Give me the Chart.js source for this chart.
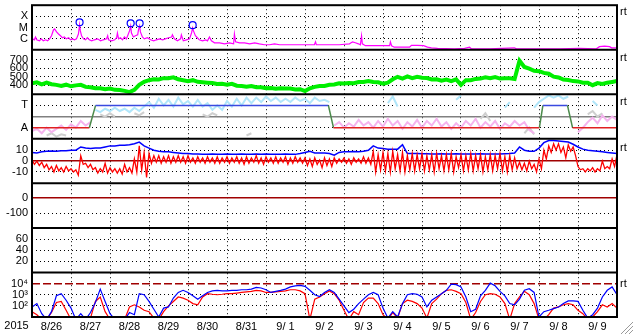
<!DOCTYPE html>
<html>
<head>
<meta charset="utf-8">
<script src="https://cdn.jsdelivr.net/npm/chart.js@4.4.1/dist/chart.umd.min.js"></script>
<style>
  html, body { margin: 0; padding: 0; background: #fff; }
  #wrap { width: 633px; height: 334px; }
</style>
</head>
<body>
<div id="wrap"><canvas id="spaceWeather" width="633" height="334"></canvas></div>
<script>
const _ = null;

const dayLabels = ["8/26", "8/27", "8/28", "8/29", "8/30", "8/31", "9/ 1", "9/ 2", "9/ 3", "9/ 4", "9/ 5", "9/ 6", "9/ 7", "9/ 8", "9/ 9"];
const yearLabel = "2015";

// X-ray flux, irregular samples (day 0 = 8/26 00:00)
const xrayDay = [
  0.01, 0.06, 0.09, 0.12, 0.19, 0.24, 0.29, 0.35, 0.40, 0.45,
  0.50, 0.55, 0.58, 0.63, 0.68, 0.73, 0.78, 0.83, 0.88, 0.94,
  0.99, 1.04, 1.09, 1.14, 1.19, 1.22, 1.24, 1.27, 1.32, 1.37,
  1.42, 1.47, 1.53, 1.60, 1.68, 1.76, 1.83, 1.91, 1.94, 1.96,
  2.04, 2.12, 2.17, 2.19, 2.22, 2.27, 2.32, 2.37, 2.42, 2.47,
  2.50, 2.53, 2.55, 2.60, 2.65, 2.71, 2.73, 2.76, 2.78, 2.83,
  2.88, 2.96, 3.04, 3.12, 3.19, 3.27, 3.35, 3.42, 3.50, 3.58,
  3.60, 3.65, 3.73, 3.81, 3.83, 3.88, 3.96, 4.04, 4.09, 4.12,
  4.14, 4.19, 4.24, 4.29, 4.37, 4.45, 4.50, 4.55, 4.60, 4.68,
  4.81, 4.94, 5.06, 5.17, 5.19, 5.22, 5.32, 5.45, 5.58, 5.71,
  5.83, 5.96, 6.09, 6.22, 6.35, 6.60, 6.86, 7.12, 7.24, 7.27,
  7.29, 7.58, 7.88, 8.14, 8.22, 8.29, 8.37, 8.42, 8.45, 8.47,
  8.55, 8.86, 9.17, 9.19, 9.22, 9.29, 9.55, 9.68, 9.73, 9.88,
  10.04, 10.14, 10.24, 10.40, 10.83, 11.09, 11.22, 11.27, 11.73, 12.37,
  12.42, 13.01, 13.53, 14.04, 14.47, 14.55, 14.68, 14.81, 14.86, 14.99
];
const xrayFlux = [
  9.5e-7, 7.8e-7, 1.4e-6, 7.8e-7, 6.3e-7, 9.5e-7, 6.3e-7, 7.8e-7, 6.3e-7, 9.5e-7,
  1.8e-6, 6.0e-6, 7.4e-6, 4.0e-6, 2.6e-6, 1.8e-6, 1.2e-6, 1.4e-6, 9.5e-7, 1.2e-6,
  7.8e-7, 9.5e-7, 7.8e-7, 9.5e-7, 2.6e-6, 1.7e-5, 4.9e-6, 1.8e-6, 9.5e-7, 7.8e-7,
  1.2e-6, 7.8e-7, 6.3e-7, 7.8e-7, 9.5e-7, 6.3e-7, 7.8e-7, 9.5e-7, 1.8e-6, 7.8e-7,
  6.3e-7, 7.8e-7, 1.2e-6, 3.2e-6, 9.5e-7, 1.2e-6, 7.8e-7, 1.4e-6, 9.5e-7, 2.6e-6,
  4.9e-6, 1.35e-5, 3.2e-6, 1.4e-6, 1.8e-6, 2.2e-6, 6.0e-6, 1.35e-5, 4.0e-6, 1.4e-6,
  9.5e-7, 1.2e-6, 7.8e-7, 6.3e-7, 7.8e-7, 9.5e-7, 7.8e-7, 9.5e-7, 1.2e-6, 1.4e-6,
  2.2e-6, 9.5e-7, 6.3e-7, 9.5e-7, 2.2e-6, 6.3e-7, 7.8e-7, 9.5e-7, 3.2e-6, 9.0e-6,
  4.9e-6, 1.8e-6, 1.2e-6, 7.8e-7, 6.3e-7, 7.8e-7, 6.3e-7, 1.4e-6, 6.3e-7, 4.2e-7,
  4.2e-7, 3.4e-7, 4.2e-7, 3.4e-7, 2.6e-6, 5.1e-7, 4.2e-7, 4.2e-7, 3.4e-7, 4.2e-7,
  3.4e-7, 2.8e-7, 2.8e-7, 3.4e-7, 2.8e-7, 2.8e-7, 2.8e-7, 2.8e-7, 2.8e-7, 5.1e-7,
  2.8e-7, 2.8e-7, 2.8e-7, 3.4e-7, 5.1e-7, 4.2e-7, 3.4e-7, 2.8e-7, 1.8e-6, 3.4e-7,
  2.3e-7, 2.3e-7, 2.3e-7, 5.1e-7, 2.3e-7, 1.7e-7, 1.7e-7, 1.7e-7, 2.5e-7, 2.5e-7,
  2.3e-7, 1.7e-7, 1.5e-7, 1.35e-7, 1.2e-7, 1.35e-7, 1.7e-7, 1.2e-7, 1.2e-7, 1.5e-7,
  1.2e-7, 1.2e-7, 1.2e-7, 1.35e-7, 1.2e-7, 1.9e-7, 2.1e-7, 1.9e-7, 1.5e-7, 1.5e-7
];
const flareDay = [1.22, 2.53, 2.76, 4.12];
const flareMark = [2.9e-5, 2.35e-5, 2.35e-5, 1.6e-5];

// 3-hourly samples from 8/26 00:00 to 9/10 00:00
const windSpeed = [
  420, 432, 408, 428, 410, 402, 388, 404, 385, 396,
  402, 378, 374, 362, 362, 350, 358, 343, 342, 331,
  316, 342, 402, 438, 458, 468, 466, 482, 480, 492,
  468, 458, 447, 458, 438, 433, 428, 423, 412, 414,
  404, 415, 392, 388, 379, 387, 375, 374, 362, 365,
  357, 361, 358, 359, 347, 351, 328, 362, 378, 388,
  388, 403, 407, 421, 419, 424, 422, 435, 437, 448,
  437, 433, 417, 428, 468, 498, 477, 503, 482, 498,
  487, 483, 467, 468, 452, 465, 447, 468, 402, 458,
  457, 473, 477, 493, 482, 495, 477, 481, 482, 473,
  690, 615, 595, 570, 565, 545, 535, 500, 490, 465,
  460, 447, 443, 427, 428, 398, 423, 412, 428, 437,
  447
];

const modeDay = [0, 1.47, 1.63, 7.60, 7.73, 13.01, 13.10, 13.73, 13.86, 15];
const modeLevel = [1, 1, 3, 3, 1, 1, 3, 3, 1, 1];

const plasmaBlue = [
  _, _, _, _, _, _, _, _, _, _,
  _, _, _, 2.6, 2.4, 2.7, 2.5, 2.8, 2.5, 2.7,
  2.4, 2.8, 2.5, 2.9, 3.3, 2.8, 3.6, 3.0, 3.5, 2.9,
  3.7, 3.1, 3.4, 2.9, 3.5, 2.9, 3.2, 2.6, 3.0, 2.6,
  3.4, 2.9, 3.6, 3.0, 3.7, 3.2, 3.7, 3.3, 3.8, 3.4,
  3.7, 3.3, 3.6, 3.3, 3.7, 3.4, 3.6, 3.2, 3.7, 3.4,
  3.5, 3.3, _, _, _, _, _, _, _, _,
  _, _, _, 3.2, 3.8, 2.9, _, _, _, _,
  _, _, _, _, _, _, _, 3.5, 3.9, _,
  _, _, _, _, _, _, _, 2.8, 3.3, _,
  _, _, _, 2.8, 3.3, 3.6, 3.9, 3.7, 3.9, 3.6,
  3.8, _, _, _, _, 3.4, 3.0, _, _, _,
  _
];
const plasmaPink = [
  0.7, 0.9, 0.5, 1.0, 0.6, 0.9, 1.2, 0.8, 1.3, 1.0,
  1.6, 1.2, 1.5, _, _, _, _, _, _, _,
  _, _, _, _, _, _, _, _, _, _,
  _, _, _, _, _, _, _, _, _, _,
  _, _, _, _, _, _, _, _, _, _,
  _, _, _, _, _, _, _, _, _, _,
  _, _, 1.2, 1.5, 1.0, 1.4, 1.1, 1.7, 1.2, 1.5,
  1.0, 1.6, 1.1, 1.8, 1.2, 1.6, 0.9, 1.5, 1.1, 1.7,
  1.0, 1.6, 1.2, 1.8, 1.1, 1.5, 0.9, 1.4, 1.0, 1.6,
  1.2, 1.8, 1.0, 1.5, 1.1, 1.6, 0.9, 1.4, 1.1, 1.6,
  1.2, 1.5, 0.8, 0.5, _, _, _, _, _, _,
  _, _, 0.6, 1.0, 1.5, 1.9, 1.4, 2.1, 1.6, 2.0,
  1.7
];
const plasmaGray = [
  _, _, _, 0.3, 0.5, 0.2, 0.4, 0.3, _, _,
  _, _, _, _, 2.2, 2.0, 2.3, 2.0, _, _,
  _, 2.3, 2.1, 2.4, _, _, _, _, _, _,
  _, _, _, _, _, 2.2, 2.0, 2.3, 2.1, _,
  _, _, _, _, 0.3, 0.5, _, _, _, _,
  _, _, _, _, _, _, _, _, _, _,
  _, _, _, _, _, _, _, _, _, _,
  _, _, _, _, _, _, _, _, _, _,
  _, _, _, _, _, _, _, _, _, _,
  _, _, 1.8, 2.3, 1.6, _, _, _, _, _,
  _, 0.5, 1.0, 0.4, _, _, _, _, _, _,
  _, _, _, _, 2.2, 2.5, 2.0, 2.3, _, _,
  _
];

const imfBt = [
  8, 7.5, 8.5, 9, 9.3, 9, 9.5, 9.5, 10, 10,
  13, 12, 11.5, 12, 12, 13, 14, 14, 14.5, 14.5,
  15, 16, 17.5, 14, 12, 10, 9, 8.5, 8.5, 8,
  7.5, 7, 7, 6.5, 6.5, 6.2, 6.2, 6.5, 6.2, 6.2,
  6.5, 6.2, 6.2, 6.5, 6.2, 6.2, 6.5, 6.2, 6.5, 6.2,
  6.2, 6.2, 6.5, 6.2, 6.2, 7, 8, 9, 7.5, 7.5,
  7.5, 7, 5.5, 8, 8.5, 8.5, 8.8, 8.5, 9, 10,
  14, 12, 11.5, 11, 11, 11, 15, 7, 7, 7,
  6.8, 6.8, 6.5, 6.5, 6.8, 6.5, 6.5, 6.8, 6.5, 6.5,
  6.5, 6.5, 6.8, 6.5, 6.5, 6.5, 6.5, 6.8, 7, 7.5,
  13, 10, 9, 9, 12, 17, 19, 19, 18.5, 18,
  17.5, 15.5, 13, 11, 10, 9.5, 9, 8.5, 8, 7.5,
  7
];
// Bz swings within each 3-hour bin: upper and lower excursions
const imfBzHi = [
  1, 0, -1, -3, -5, -4, -6, -5, -7, -8,
  5, -2, -3, -6, -7, -2, -6, -7, -7, -3,
  -6, 2, 14, 8, 7, 5, 5, 4, 5, 4,
  5, 4, 5, 3, 4, 3, 4, 3, 4, 3,
  4, 3, 4, 3, 4, 3, 5, 3, 4, 3,
  4, 3, 4, 3, 4, 3, 3, 2, 3, 1,
  3, 2, 3, 2, 3, 2, 3, 2, 4, 3,
  9, 6, 8, 7, 9, 6, 8, 5, 7, 6,
  7, 5, 6, 7, 5, 6, 7, 4, 6, 5,
  7, 5, 6, 4, 6, 5, 7, 4, 5, 3,
  -1, -2, 0, -3, 2, 10, 14, 16, 16, 13,
  15, 13, -5, -7, -7, -6, -7, 0, -5, 2,
  6
];
const imfBzLo = [
  -3, -4, -6, -8, -10, -9, -10, -9, -10, -13,
  -3, -6, -8, -11, -10, -11, -10, -11, -12, -10,
  -11, -10, -8, -15, -2, -1, -2, -1, -2, -1,
  -1, -2, -1, -2, -1, -2, -1, -2, -2, -1,
  -2, -1, -2, -3, -2, -1, -2, -3, -1, -2,
  -2, -1, -3, -2, -1, -2, -4, -5, -3, -6,
  -4, -5, -2, -1, -2, -3, -1, -2, -2, -3,
  -10, -8, -9, -10, -7, -9, -10, -8, -9, -7,
  -9, -8, -10, -7, -9, -8, -10, -6, -9, -8,
  -9, -7, -10, -8, -9, -7, -9, -10, -8, -7,
  -8, -9, -7, -10, -7, 2, 8, 10, 8, 3,
  9, 5, -8, -10, -9, -10, -9, -7, -7, -5,
  3
];

const electronBlue = [
  80, 160, 20, 6, 30, 800, 1250, 320, 63, 6,
  20, 6, 25, 200, 3200, 250, 20, 6, 6, 6,
  25, 16, 1250, 1000, 250, 50, 10, 63, 80, 500,
  1600, 2500, 1600, 800, 400, 800, 1600, 2200, 2500, 2200,
  2200, 2500, 2500, 2800, 2800, 3200, 4500, 4000, 2800, 1600,
  2000, 2500, 3200, 5000, 6300, 7000, 5600, 2500, 1000, 700,
  1600, 2800, 1600, 400, 100, 25, 50, 160, 400, 1000,
  1600, 1000, 63, 8, 30, 10, 160, 1000, 1250, 1100,
  630, 80, 320, 630, 1250, 2500, 9000, 8000, 5000, 630,
  30, 50, 800, 2500, 11000, 6300, 2000, 800, 160, 125,
  400, 2500, 3500, 1600, 10, 30, 40, 56, 80, 160,
  280, 280, 250, 40, 8, 16, 63, 630, 2500, 5000,
  1000
];
const electronRed = [
  30, 16, 6, 6, 25, 200, 250, 40, 6, 6,
  6, 6, 8, 250, 630, 30, 6, 6, 6, 6,
  80, 125, 80, 40, 30, 8, 6, 30, 100, 250,
  630, 500, 320, 160, 125, 630, 1250, 1100, 1000, 1100,
  1250, 1250, 1400, 1600, 1800, 2000, 2500, 2200, 1600, 1600,
  1800, 2000, 2200, 2800, 2800, 2200, 1250, 6, 400, 630,
  1250, 2200, 1250, 320, 40, 6, 30, 16, 200, 500,
  500, 160, 16, 6, 25, 8, 160, 320, 250, 160,
  63, 8, 160, 400, 1250, 2500, 2800, 2000, 1250, 200,
  6, 25, 250, 1000, 1250, 1100, 630, 160, 6, 160,
  630, 2000, 1000, 160, 6, 6, 16, 63, 80, 125,
  160, 125, 40, 20, 6, 10, 30, 125, 80, 160,
  63
];

const hour3 = windSpeed.map((v, i) => i / 8);
const pairs = (xs, ys) => xs.map((x, i) => ({ x, y: ys[i] }));
// upper excursion at the start of each bin, lower one half a bin later
const swing = (hi, lo) => hi.flatMap((h, i) => [{ x: i / 8, y: h }, { x: i / 8 + 1 / 16, y: lo[i] }]);

const DOT = [1, 3];

// one stacked panel axis
function panelAxis(type, min, max, ticks, labels, weight, special) {
  special = special || {};
  return {
    type, min, max, weight,
    position: "left",
    stack: "panels",
    afterBuildTicks: s => { s.ticks = ticks.map(v => ({ value: v })); },
    afterFit: s => { s.width = 32; s.paddingTop = 0; s.paddingBottom = 0; },
    border: {
      display: false,
      dash: ctx => (special[ctx.tick?.value] ? special[ctx.tick.value].dash : DOT)
    },
    grid: {
      drawTicks: false,
      color: ctx => (special[ctx.tick?.value] ? special[ctx.tick.value].color : "#000"),
      lineWidth: ctx => (special[ctx.tick?.value] ? special[ctx.tick.value].width : 1)
    },
    ticks: {
      autoSkip: false,
      padding: 4,
      color: "#000",
      callback: v => labels[ticks.indexOf(v)] ?? ""
    }
  };
}

const zeroLine = { 0: { color: "#a00000", width: 1.5, dash: [] } };

const line = (data, yAxisID, color, width, order) => ({
  data, yAxisID, borderColor: color, borderWidth: width, order,
  pointRadius: 0, fill: false, tension: 0, clip: 0
});

const frames = {
  id: "frames",
  afterDatasetsDraw(chart) {
    const { ctx, chartArea: a } = chart;
    ctx.save();
    ctx.strokeStyle = "#000";
    ctx.lineWidth = 2;
    ["yWind", "yMode", "yMag", "yDst", "yKp", "yElec"].forEach(id => {
      const y = chart.scales[id].top;
      ctx.beginPath();
      ctx.moveTo(a.left, y);
      ctx.lineTo(a.right, y);
      ctx.stroke();
    });
    ctx.strokeRect(a.left, a.top, a.right - a.left, a.bottom - a.top);

    ctx.fillStyle = "#000";
    ctx.font = '11px "Liberation Sans", Arial, sans-serif';
    ctx.textBaseline = "middle";
    ctx.textAlign = "left";
    [["yXray", 7], ["yWind", 8], ["yMode", 8], ["yMag", 9], ["yElec", 12]].forEach(([id, dy]) => {
      ctx.fillText("rt", a.right + 3, chart.scales[id].top + dy);
    });
    ctx.textAlign = "center";
    ctx.fillText(yearLabel, 16.5, a.bottom + 9);

    // window resize grip
    ctx.strokeStyle = "#9a9a9a";
    ctx.lineWidth = 1;
    [4, 8, 12].forEach(k => {
      ctx.beginPath();
      ctx.moveTo(633 - k, 334);
      ctx.lineTo(633, 334 - k);
      ctx.stroke();
    });
    ctx.restore();
  }
};

Chart.defaults.font.family = '"Liberation Sans", Arial, sans-serif';
Chart.defaults.font.size = 11;
Chart.defaults.color = "#000";

new Chart(document.getElementById("spaceWeather"), {
  type: "line",
  data: {
    datasets: [
      {
        data: pairs(flareDay, flareMark), yAxisID: "yXray", order: 0,
        showLine: false, pointRadius: 3.5, pointBorderWidth: 1.2,
        pointBorderColor: "#0000ff", pointBackgroundColor: "rgba(0,0,0,0)", clip: 0
      },
      line(pairs(xrayDay, xrayFlux), "yXray", "#ff00ff", 1.2, 1),
      line(pairs(hour3, windSpeed), "yWind", "#00ee00", 4, 1),
      Object.assign(line(pairs(modeDay, modeLevel), "yMode", "#e02020", 1.5, 0), {
        segment: {
          borderColor: c => {
            const a = c.p0.parsed.y, b = c.p1.parsed.y;
            if (a !== b) return "#4a8a4a";
            return a === 3 ? "#3a4ae0" : "#e02020";
          }
        }
      }),
      line(pairs(hour3, plasmaBlue), "yMode", "#b0e6fa", 2, 3),
      line(pairs(hour3, plasmaPink), "yMode", "#f5b3ee", 2, 3),
      line(pairs(hour3, plasmaGray), "yMode", "#cfcfcf", 2, 4),
      line(swing(imfBzHi, imfBzLo), "yMag", "#ff0000", 1.3, 0),
      line(pairs(hour3, imfBt), "yMag", "#0000ff", 1.5, 1),
      line(pairs(hour3, electronBlue), "yElec", "#0000ff", 1.2, 0),
      line(pairs(hour3, electronRed), "yElec", "#ff0000", 1.2, 1)
    ]
  },
  options: {
    responsive: false,
    animation: false,
    events: [],
    layout: { padding: { top: 2, right: 16, bottom: 0, left: 0 } },
    plugins: { legend: { display: false }, tooltip: { enabled: false } },
    scales: {
      x: {
        type: "linear", min: 0, max: 15, position: "bottom",
        afterBuildTicks: s => { s.ticks = dayLabels.concat([""]).map((d, i) => ({ value: i })); },
        afterFit: s => { s.height = 17; s.paddingLeft = 0; s.paddingRight = 0; },
        border: { display: false, dash: DOT },
        grid: { drawTicks: false, color: "#000", lineWidth: 1 },
        ticks: {
          autoSkip: false, maxRotation: 0, padding: 3, labelOffset: 19.5,
          callback: v => dayLabels[v] ?? ""
        }
      },
      yXray: panelAxis("logarithmic", 1e-7, 1e-3, [1e-6, 1e-5, 1e-4], ["C", "M", "X"], 70),
      yWind: panelAxis("linear", 290, 820, [400, 500, 600, 700], ["400", "500", "600", "700"], 60),
      yMode: panelAxis("linear", 0, 4, [1, 2, 3], ["A", "", "T"], 50,
        { 2: { color: "#808080", width: 1.5, dash: [] } }),
      yMag: panelAxis("linear", -20.5, 20.5, [-10, 0, 10], ["-10", "0", "10"], 40, zeroLine),
      yDst: panelAxis("linear", -200, 100, [-100, 0], ["-100", "0"], 30, zeroLine),
      yKp: panelAxis("linear", 0, 80, [20, 40, 60], ["20", "40", "60"], 20),
      yElec: panelAxis("logarithmic", 10, 1e5, [100, 1000, 10000], ["10\u00b2", "10\u00b3", "10\u2074"], 10,
        { 10000: { color: "#a00000", width: 1.5, dash: [8, 3] } })
    }
  },
  plugins: [frames]
});
</script>
</body>
</html>
